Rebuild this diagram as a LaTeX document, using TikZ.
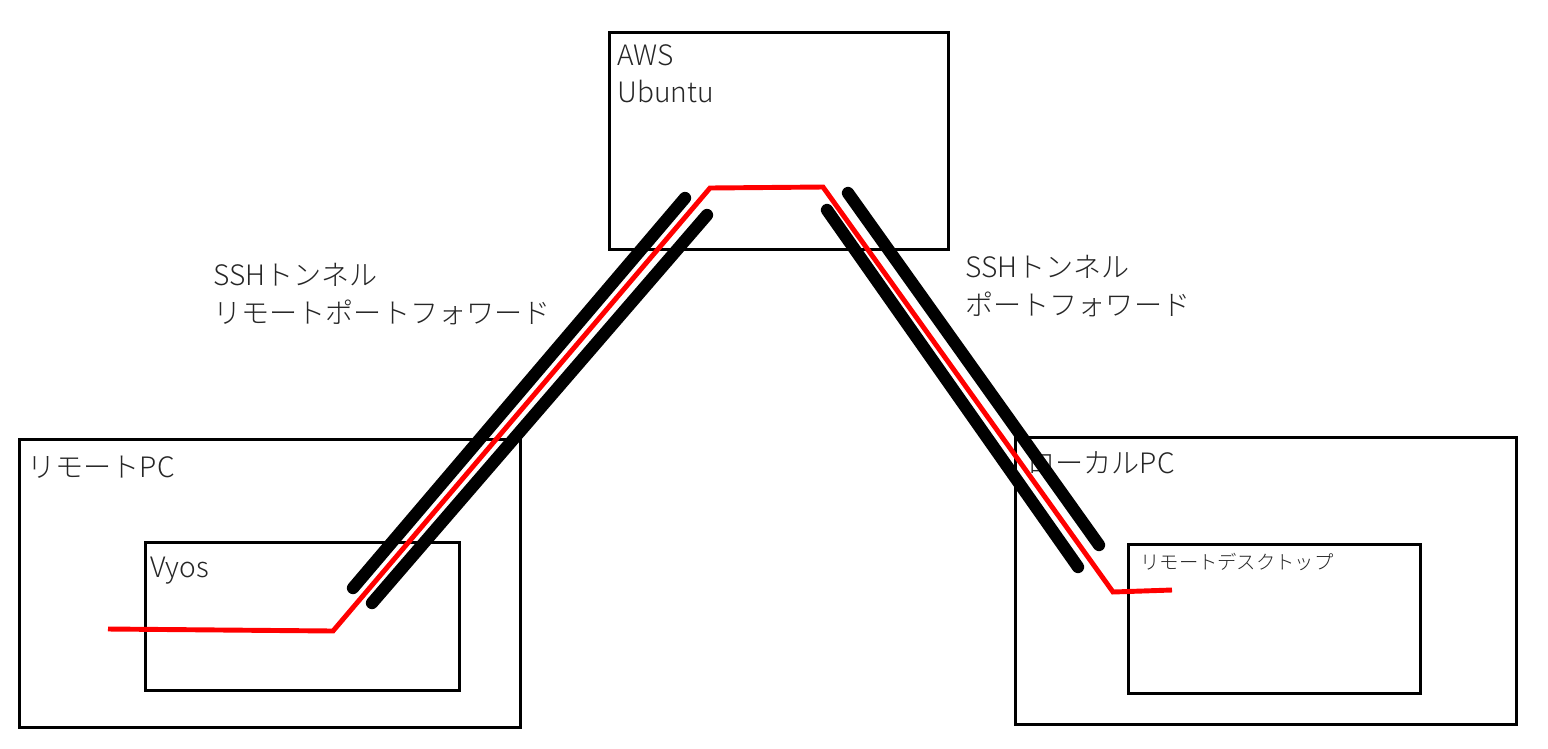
\documentclass[tikz,border=0pt]{standalone}
\usepackage{fontspec}
\setmainfont{Noto Sans CJK JP Light}
\usetikzlibrary{positioning}

\begin{document}
\begin{tikzpicture}
[x=0.02cm, y=-0.02cm,
 box/.style={draw, line width=1.6pt, inner sep=0pt, anchor=north west},
 lbl/.style={anchor=base west, inner sep=0pt, text=black!85, font=\fontsize{16}{19}\selectfont},
 small/.style={anchor=base west, inner sep=0pt, text=black!85, font=\fontsize{11}{13}\selectfont},
 tunnel/.style={line width=7pt, line cap=round},
 route/.style={red, line width=2.8pt, line join=miter}]
\useasboundingbox (0,0) rectangle (1548,748);
% boxes
\node[box, minimum width=6.78cm, minimum height=4.34cm] (aws) at (608,31) {};
\node[box, minimum width=10.02cm, minimum height=5.76cm] (remote) at (18,438) {};
\node[box, minimum width=6.28cm, minimum height=2.96cm] (vyos) at (144,541) {};
\node[box, minimum width=10.02cm, minimum height=5.74cm] (local) at (1014,436) {};
\node[box, minimum width=5.84cm, minimum height=2.98cm] (rdp) at (1127,543) {};
% labels
\node[lbl] (aws-l1) at (617,65) {AWS};
\node[lbl] (aws-l2) at (617,102) {Ubuntu};
\node[lbl] (remote-l) at (27,477) {リモートPC};
\node[lbl] (vyos-l) at (150,577) {Vyos};
\node[lbl] (local-l) at (1027,473) {ローカルPC};
\node[small] (rdp-l) at (1140,569) {リモートデスクトップ};
\node[lbl] (ssh-l1) at (213,285) {SSHトンネル};
\node[lbl] (ssh-l2) at (213,323) {リモートポートフォワード};
\node[lbl] (ssh-r1) at (965,277) {SSHトンネル};
\node[lbl] (ssh-r2) at (965,315) {ポートフォワード};
% tunnels
\coordinate (tl-a1) at (353,588); \coordinate (tl-a2) at (685,198);
\coordinate (tl-b1) at (372,603); \coordinate (tl-b2) at (707,215);
\coordinate (tr-a1) at (848,193); \coordinate (tr-a2) at (1099,545);
\coordinate (tr-b1) at (827,210); \coordinate (tr-b2) at (1078,567);
\draw[tunnel] (tl-a1) -- (tl-a2);
\draw[tunnel] (tl-b1) -- (tl-b2);
\draw[tunnel] (tr-a1) -- (tr-a2);
\draw[tunnel] (tr-b1) -- (tr-b2);
% route
\coordinate (r0) at (108,629);
\coordinate (r1) at (333,631);
\coordinate (r2) at (710,188);
\coordinate (r3) at (823,187);
\coordinate (r4) at (1113,592);
\coordinate (r5) at (1172,590);
\draw[route] (r0) -- (r1) -- (r2) -- (r3) -- (r4) -- (r5);
\end{tikzpicture}
\end{document}
